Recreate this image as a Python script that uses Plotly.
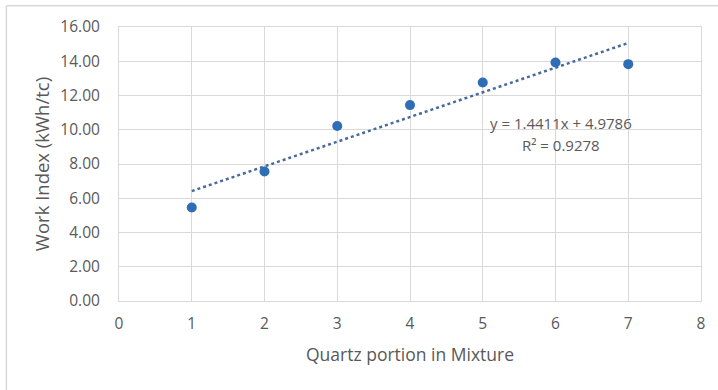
import numpy as np
import plotly.graph_objects as go

# Data
quartz_portion = [1, 2, 3, 4, 5, 6, 7]
work_index = [5.46, 7.56, 10.22, 11.44, 12.76, 13.93, 13.83]
trend_slope = 1.4411
trend_intercept = 4.9786
r_squared = 0.9278
x_ticks = [0, 1, 2, 3, 4, 5, 6, 7, 8]
y_ticks = [0, 2, 4, 6, 8, 10, 12, 14, 16]

trend_x = [min(quartz_portion), max(quartz_portion)]
trend_y = [trend_slope * x + trend_intercept for x in trend_x]

FONT = "Open Sans, Liberation Sans, sans-serif"
TXT = "#595959"
GRID = "#d9d9d9"

fig = go.Figure()
fig.add_trace(go.Scatter(
    x=trend_x, y=trend_y, mode="lines",
    line=dict(color="#4a6a9c", width=2.5, dash="dot"),
    showlegend=False, hoverinfo="skip"))
fig.add_trace(go.Scatter(
    x=quartz_portion, y=work_index, mode="markers",
    marker=dict(color="#2f6db5", size=10),
    showlegend=False))

fig.add_annotation(
    x=6.08, y=10.39, xref="x", yref="y",
    text=f"y = {trend_slope}x + {trend_intercept}",
    showarrow=False, font=dict(family=FONT, size=15, color=TXT))
fig.add_annotation(
    x=6.08, y=9.1, xref="x", yref="y",
    text=f"R² = {r_squared}",
    showarrow=False, font=dict(family=FONT, size=15, color=TXT))

# outer chart border (top and left visible)
fig.add_shape(type="line", xref="paper", yref="paper",
              x0=-0.1935, x1=1.03, y0=1.078, y1=1.078,
              line=dict(color="#d9d9d9", width=1.5))
fig.add_shape(type="line", xref="paper", yref="paper",
              x0=-0.1935, x1=-0.1935, y0=1.078, y1=-0.33,
              line=dict(color="#d9d9d9", width=1.5))

fig.update_layout(
    width=718, height=390,
    margin=dict(l=119, r=15, t=27, b=89),
    paper_bgcolor="white", plot_bgcolor="white",
    font=dict(family=FONT, size=15, color=TXT),
    xaxis=dict(
        range=[0, 8], tickvals=x_ticks, ticktext=[str(v) for v in x_ticks],
        showgrid=True, gridcolor=GRID, gridwidth=1,
        showline=True, mirror=True, linecolor=GRID, linewidth=1,
        zeroline=False, ticks="outside", ticklen=8, tickcolor="rgba(0,0,0,0)",
        title=dict(text="Quartz portion in Mixture", standoff=16,
                   font=dict(family=FONT, size=17.5, color=TXT)),
        tickfont=dict(family=FONT, size=15.5, color=TXT),
    ),
    yaxis=dict(
        range=[0, 16], tickvals=y_ticks, ticktext=[f"{v:.2f}" for v in y_ticks],
        showgrid=True, gridcolor=GRID, gridwidth=1,
        showline=True, mirror=True, linecolor=GRID, linewidth=1,
        zeroline=True, zerolinecolor="#bfbfbf", zerolinewidth=1.5,
        ticks="outside", ticklen=15, tickcolor="rgba(0,0,0,0)",
        title=dict(text="Work Index (kWh/tc)", standoff=5,
                   font=dict(family=FONT, size=18.5, color=TXT)),
        tickfont=dict(family=FONT, size=15.5, color=TXT),
    ),
)

fig.write_html("out.html", config={"displayModeBar": False},
               post_script="document.body.style.margin='0';document.body.style.overflow='hidden';")
